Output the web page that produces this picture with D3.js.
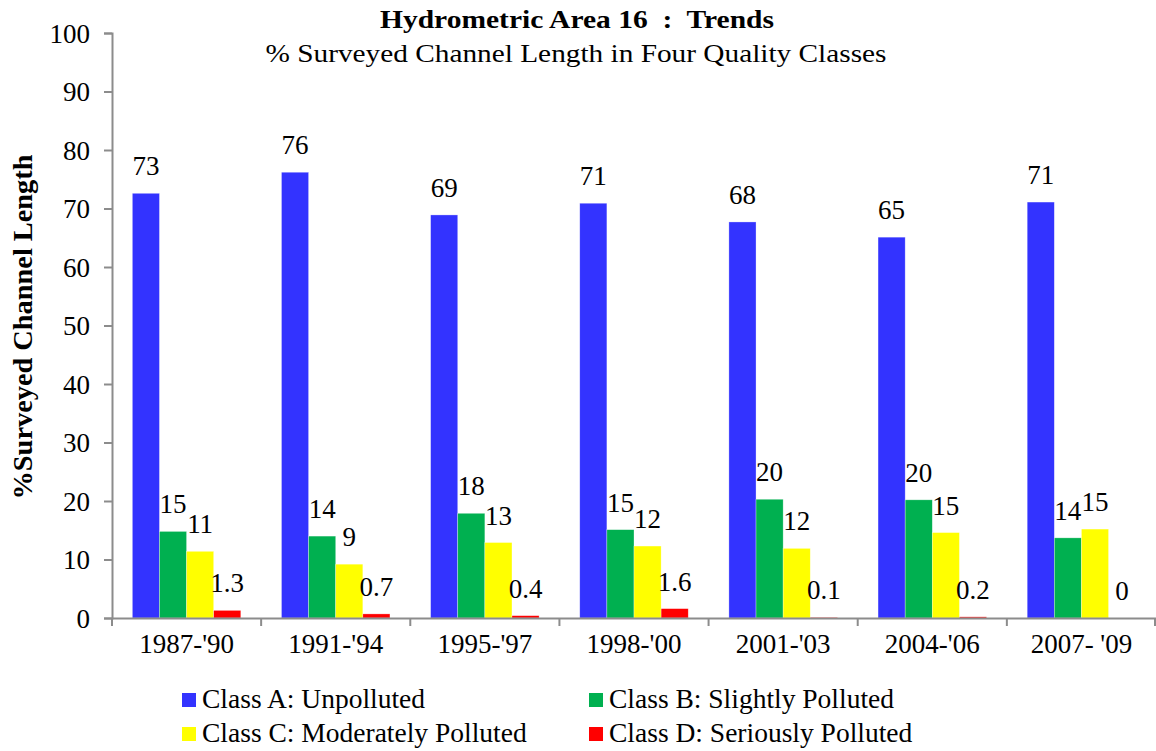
<!DOCTYPE html>
<html>
<head>
<meta charset="utf-8">
<script src="https://cdn.jsdelivr.net/npm/d3@7"></script>
<style>
  body { margin: 0; background: #fff; }
  svg text { font-family: "Liberation Serif", "Times New Roman", serif; fill: #000; }
</style>
</head>
<body>
<svg id="chart" width="1156" height="751"></svg>
<script>
"use strict";

const periods = ["1987-'90", "1991-'94", "1995-'97", "1998-'00", "2001-'03", "2004-'06", "2007- '09"];
const classNames = ["Class A: Unpolluted", "Class B: Slightly Polluted", "Class C: Moderately Polluted", "Class D: Seriously Polluted"];
const classColors = ["#3333ff", "#00b050", "#ffff00", "#ff0000"];

const classA = [72.6, 76.2, 68.9, 70.9, 67.7, 65.1, 71.1];
const classB = [14.8, 14.0, 17.9, 15.1, 20.3, 20.2, 13.7];
const classC = [11.4, 9.2, 12.9, 12.3, 11.9, 14.6, 15.2];
const classD = [1.3, 0.7, 0.4, 1.6, 0.1, 0.2, 0];

const labelsA = ["73", "76", "69", "71", "68", "65", "71"];
const labelsB = ["15", "14", "18", "15", "20", "20", "14"];
const labelsC = ["11", "9", "13", "12", "12", "15", "15"];
const labelsD = ["1.3", "0.7", "0.4", "1.6", "0.1", "0.2", "0"];

const yTicks = [0, 10, 20, 30, 40, 50, 60, 70, 80, 90, 100];

const series = [classA, classB, classC, classD];
const seriesLabels = [labelsA, labelsB, labelsC, labelsD];

const svg = d3.select("#chart");
const margin = { left: 112, right: 0, top: 33, bottom: 133 };
const width = 1156, height = 751;

const x = d3.scaleBand().domain(periods).range([margin.left, width - margin.right]);
const inner = d3.scaleBand().domain(d3.range(4)).range([0, x.bandwidth()]).paddingOuter(0.75).paddingInner(0);
const y = d3.scaleLinear().domain([0, 100]).range([height - margin.bottom, margin.top]);

// one entry per bar in each period group
const barData = (p, i) => series.map((s, k) => ({ k, v: s[i], label: seriesLabels[k][i] }));

const groups = svg.append("g")
  .selectAll("g")
  .data(periods)
  .join("g")
  .attr("transform", d => `translate(${x(d)},0)`);

groups.selectAll("rect")
  .data(barData)
  .join("rect")
  .attr("x", d => inner(d.k))
  .attr("width", inner.bandwidth())
  .attr("y", d => y(d.v))
  .attr("height", d => y(0) - y(d.v))
  .attr("fill", d => classColors[d.k])
  .attr("stroke", "#ffffff")
  .attr("stroke-opacity", 0.5)
  .attr("stroke-width", 0.6);

groups.selectAll("text")
  .data(barData)
  .join("text")
  .attr("x", d => inner(d.k) + inner.bandwidth() / 2)
  .attr("y", d => y(d.v) - 18)
  .attr("text-anchor", "middle")
  .attr("font-size", 27)
  .text(d => d.label);

// y axis
const yAxis = svg.append("g")
  .attr("transform", `translate(${margin.left},0)`)
  .call(d3.axisLeft(y).tickValues(yTicks).tickSize(8).tickPadding(14));
yAxis.selectAll("text").attr("font-size", 27).attr("dy", "0.34em");
yAxis.selectAll("line, path").attr("stroke", "#8c8c8c").attr("stroke-width", 2);

// x axis
const xAxis = svg.append("g")
  .attr("transform", `translate(0,${y(0)})`)
  .call(d3.axisBottom(x).tickSize(0).tickPadding(16));
xAxis.select(".domain").attr("stroke", "#8c8c8c").attr("stroke-width", 2);
xAxis.selectAll("text").attr("font-size", 27);
svg.append("g")
  .selectAll("line")
  .data(periods.concat([null]))
  .join("line")
  .attr("x1", d => d === null ? width - margin.right - 1 : x(d))
  .attr("x2", d => d === null ? width - margin.right - 1 : x(d))
  .attr("y1", y(0))
  .attr("y2", y(0) + 8)
  .attr("stroke", "#8c8c8c")
  .attr("stroke-width", 2);

// titles
svg.append("text")
  .attr("x", 577).attr("y", 28)
  .attr("text-anchor", "middle")
  .attr("font-size", 26).attr("font-weight", "bold")
  .attr("textLength", 394).attr("lengthAdjust", "spacingAndGlyphs")
  .style("white-space", "pre")
  .text("Hydrometric Area 16  :  Trends");

svg.append("text")
  .attr("x", 576).attr("y", 62)
  .attr("text-anchor", "middle")
  .attr("font-size", 25)
  .attr("textLength", 621).attr("lengthAdjust", "spacingAndGlyphs")
  .text("% Surveyed Channel Length in Four Quality Classes");

svg.append("text")
  .attr("transform", "translate(32,327) rotate(-90)")
  .attr("text-anchor", "middle")
  .attr("font-size", 27).attr("font-weight", "bold")
  .attr("textLength", 345).attr("lengthAdjust", "spacingAndGlyphs")
  .text("%Surveyed Channel Length");

// legend
const legendPos = [[182, 708], [589, 708], [182, 742], [589, 742]];
const legend = svg.append("g")
  .selectAll("g")
  .data(classNames)
  .join("g")
  .attr("transform", (d, i) => `translate(${legendPos[i][0]},${legendPos[i][1]})`);
legend.append("rect")
  .attr("x", 0).attr("y", -15)
  .attr("width", 14).attr("height", 14)
  .attr("fill", (d, i) => classColors[i]);
legend.append("text")
  .attr("x", 20).attr("y", 0)
  .attr("font-size", 27.5)
  .text(d => d);
</script>
</body>
</html>
